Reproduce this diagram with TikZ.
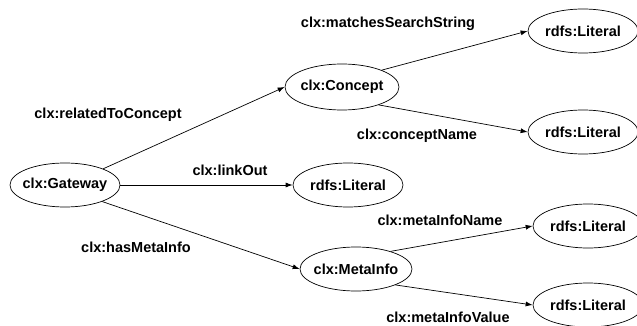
\documentclass[tikz,border=0pt]{standalone}
\usepackage{fontspec}
\setmainfont{Liberation Sans}
\usetikzlibrary{shapes.geometric,arrows.meta}
\begin{document}
\begin{tikzpicture}[x=1pt,y=-1pt,
  every node/.style={font=\fontsize{14.5}{17}\selectfont\bfseries},
  ent/.style={ellipse,draw,line width=0.7pt,minimum width=110pt,minimum height=44pt,inner xsep=-8pt,inner ysep=0pt},
  rel/.style={inner sep=0pt},
  conn/.style={line width=0.7pt,-{Latex[length=7pt,width=5pt]}}]
\useasboundingbox (0,0) rectangle (637,326);
\node[ent] (gw) at (65,185) {clx:Gateway};
\node[ent,minimum width=114pt,minimum height=46pt] (concept) at (342,87) {clx:Concept};
\node[ent] (lit1) at (583,31) {rdfs:Literal};
\node[ent] (lit2) at (583,132) {rdfs:Literal};
\node[ent] (lit3) at (348,185) {rdfs:Literal};
\node[ent,minimum width=112pt] (meta) at (356,269) {clx:MetaInfo};
\node[ent] (lit4) at (588,226) {rdfs:Literal};
\node[ent] (lit5) at (588,305) {rdfs:Literal};

\node[rel] (l1) at (108,115) {clx:relatedToConcept};
\node[rel] (l2) at (388,24) {clx:matchesSearchString};
\node[rel] (l3) at (417,136) {clx:conceptName};
\node[rel] (l4) at (230,170) {clx:linkOut};
\node[rel] (l5) at (136,247) {clx:hasMetaInfo};
\node[rel] (l6) at (440,220) {clx:metaInfoName};
\node[rel] (l7) at (448,317) {clx:metaInfoValue};

\draw[conn] (gw.23) -- (concept.west);
\draw[conn] (gw.east) -- (lit3.west);
\draw[conn] (gw.-24) -- (meta.west);
\draw[conn] (concept.23) -- (lit1.west);
\draw[conn] (concept.-26) -- (lit2.west);
\draw[conn] (meta.27) -- (lit4.west);
\draw[conn] (meta.-22) -- (lit5.west);
\end{tikzpicture}
\end{document}
